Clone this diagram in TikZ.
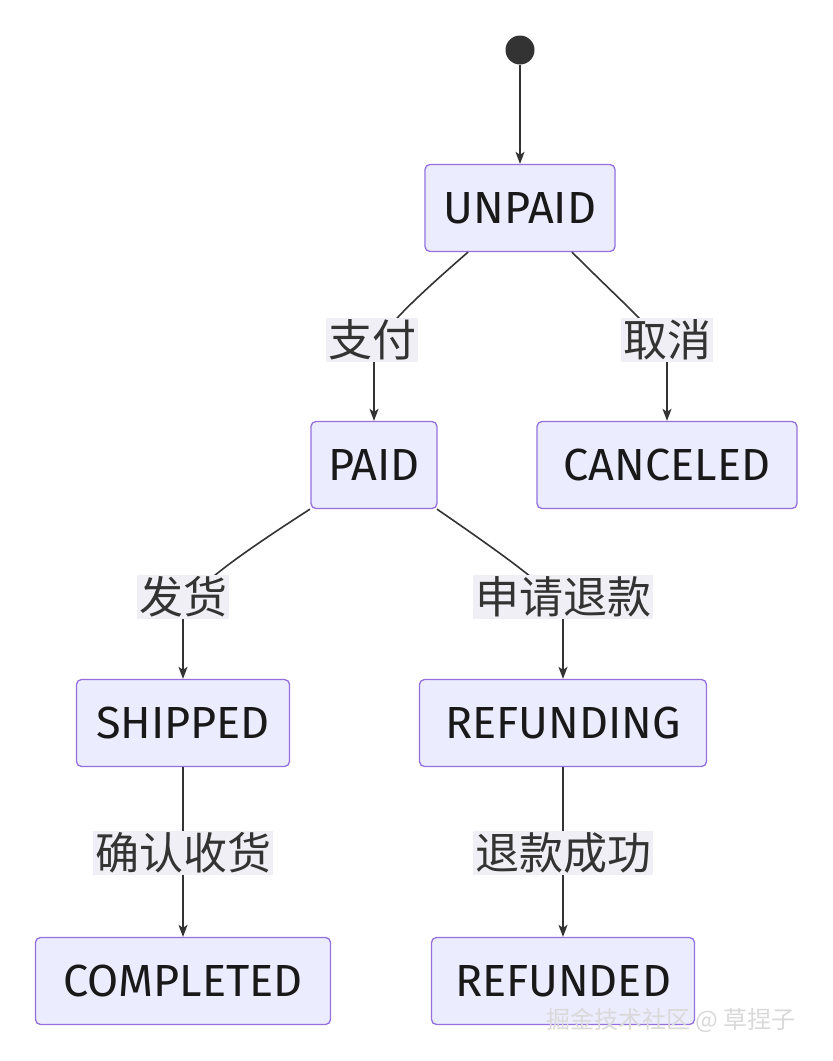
\documentclass[tikz,border=0pt]{standalone}
\usepackage{fontspec}
\setmainfont{Fira Sans}
\newfontfamily\cjk{Noto Sans CJK SC}
\usetikzlibrary{calc,arrows.meta}
\definecolor{boxfill}{HTML}{ECECFF}
\definecolor{boxline}{HTML}{9370DB}
\definecolor{linecol}{HTML}{333333}
\definecolor{labfill}{HTML}{EFEFF5}

\begin{document}
\begin{tikzpicture}[x=1pt,y=-1pt]
  \tikzset{StateStyle/.style = {
    shape          = rectangle,
    rounded corners = 5pt,
    draw           = boxline,
    fill           = boxfill,
    line width     = 1.3pt,
    text           = black!90,
    font           = \fontsize{45}{48}\selectfont,
    inner sep      = 0pt,
    minimum height = 87pt
    }
  }
  \tikzset{EdgeStyle/.style = {
    draw       = linecol,
    line width = 1.6pt,
    -{Stealth[length=12pt,width=9pt,inset=3pt]}
    }
  }
  \tikzset{EdgeLabelStyle/.style = {
    fill      = labfill,
    text      = linecol,
    font      = \cjk\fontsize{44}{48}\selectfont,
    inner sep = 2pt
    }
  }
  \useasboundingbox[fill=white] (0,0) rectangle (833,1061);

  \node[circle,fill=linecol,minimum size=29pt,inner sep=0pt] (S) at (520,50) {};
  \node[StateStyle,minimum width=190pt] (U)  at (520,208) {UNPAID};
  \node[StateStyle,minimum width=126pt] (P)  at (374,465) {PAID};
  \node[StateStyle,minimum width=260pt] (C)  at (667,465) {CANCELED};
  \node[StateStyle,minimum width=213pt] (SH) at (183,723) {SHIPPED};
  \node[StateStyle,minimum width=287pt] (RG) at (563,723) {REFUNDING};
  \node[StateStyle,minimum width=295pt] (CO) at (183,981) {COMPLETED};
  \node[StateStyle,minimum width=263pt] (RD) at (563,981) {REFUNDED};

  \draw[EdgeStyle] (S) -- (U);
  \draw[EdgeStyle] ($(U.south)+(-52,0)$) .. controls (390,320) and (374,340) .. ($(P.north)+(0,-60)$) -- (P.north);
  \draw[EdgeStyle] ($(U.south)+(52,0)$) .. controls (640,320) and (667,340) .. ($(C.north)+(0,-60)$) -- (C.north);
  \draw[EdgeStyle] ($(P.south)+(-64,0)$) .. controls (200,580) and (183,600) .. ($(SH.north)+(0,-60)$) -- (SH.north);
  \draw[EdgeStyle] ($(P.south)+(63,0)$) .. controls (540,580) and (563,600) .. ($(RG.north)+(0,-60)$) -- (RG.north);
  \draw[EdgeStyle] (SH) -- (CO);
  \draw[EdgeStyle] (RG) -- (RD);

  \node[EdgeLabelStyle] (L1) at (372,340) {支付};
  \node[EdgeLabelStyle] (L2) at (667,340) {取消};
  \node[EdgeLabelStyle] (L3) at (183,597) {发货};
  \node[EdgeLabelStyle] (L4) at (563,597) {申请退款};
  \node[EdgeLabelStyle] (L5) at (183,853) {确认收货};
  \node[EdgeLabelStyle] (L6) at (563,853) {退款成功};

  % watermark
  \node[text=black!15,font=\cjk\fontsize{24}{26}\selectfont,anchor=west] (W) at (543,1020) {掘金技术社区 @ 草捏子};
\end{tikzpicture}
\end{document}
